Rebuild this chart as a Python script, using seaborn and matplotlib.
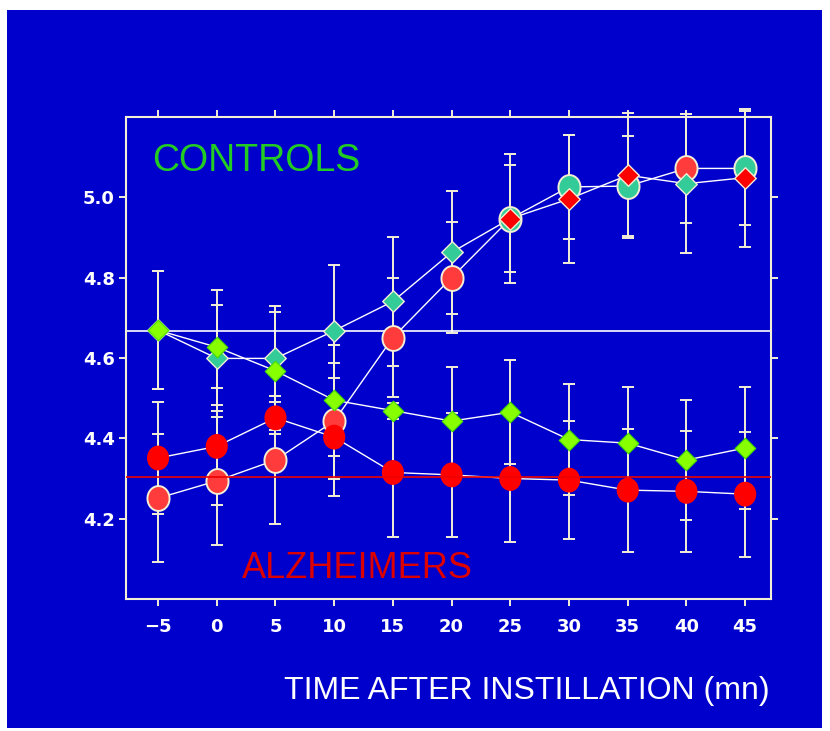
import numpy as np
import pandas as pd
import matplotlib
matplotlib.use('Agg')
import matplotlib.pyplot as plt
from matplotlib.patches import Rectangle
from matplotlib.path import Path
import seaborn as sns

# ── data ────────────────────────────────────────────────
time = [-5, 0, 5, 10, 15, 20, 25, 30, 35, 40, 45]

# rising pair (diamond / circle markers)
rise_diamond     = [4.669, 4.599, 4.599, 4.668, 4.741, 4.863, 4.947, 4.996, 5.055, 5.034, 5.049]
rise_diamond_err = [0.147, 0.132, 0.131, 0.163, 0.160, 0.153, 0.160, 0.160, 0.155, 0.173, 0.172]
rise_circle      = [4.251, 4.294, 4.346, 4.443, 4.651, 4.800, 4.947, 5.026, 5.028, 5.072, 5.072]
rise_circle_err  = [0.160, 0.160, 0.160, 0.145, 0.147, 0.138, 0.133, 0.130, 0.125, 0.135, 0.142]

# falling pair
ctrl_fall     = [4.669, 4.627, 4.568, 4.495, 4.469, 4.443, 4.465, 4.397, 4.388, 4.346, 4.376]
ctrl_fall_err = [0.147, 0.143, 0.147, 0.138, 0.020, 0.134, 0.130, 0.138, 0.140, 0.150, 0.152]
ad_fall       = [4.351, 4.380, 4.451, 4.403, 4.315, 4.309, 4.300, 4.296, 4.271, 4.268, 4.261]
ad_fall_err   = [0.140, 0.145, 0.040, 0.147, 0.160, 0.155, 0.157, 0.146, 0.153, 0.150, 0.156]

ctrl_baseline = 4.667
ad_baseline = 4.303
swapped = [25, 30, 35, 45]   # points where the slide shows teal circle + red diamond

BLUE = '#0000cc'
CREAM = '#f3efd6'
TEAL = '#33cc99'
LIME = '#88ff00'
PINK_RED = '#ff3b3b'
RED = '#ff0000'

# slightly tall oval, like the slide's round markers
ang = np.linspace(0, 2 * np.pi, 60)
OVAL = Path(np.column_stack([np.cos(ang) * 0.89, np.sin(ang)]))

sns.set_style('ticks')
plt.rcParams['font.family'] = ['DejaVu Sans']

fig = plt.figure(figsize=(8.3, 7.31), dpi=100)
fig.patch.set_facecolor('white')
fig.patches.append(Rectangle((7 / 830, 3 / 731), 815 / 830, 718 / 731,
                             transform=fig.transFigure, facecolor=BLUE,
                             edgecolor='none', zorder=-10))
ax = fig.add_axes([126 / 830, 1 - 599 / 731, 645 / 830, 482 / 731])
ax.set_facecolor(BLUE)

t = np.array(time)
swap = np.isin(t, swapped)

# error bars
for vals, errs in [(rise_diamond, rise_diamond_err), (rise_circle, rise_circle_err),
                   (ctrl_fall, ctrl_fall_err), (ad_fall, ad_fall_err)]:
    ax.errorbar(time, vals, yerr=errs, fmt='none', ecolor=CREAM,
                elinewidth=1.4, capsize=4.3, capthick=1.4, zorder=2, clip_on=False)

ax.axhline(ctrl_baseline, color='white', lw=1.2, zorder=2.5)

# connecting lines
for vals in [rise_diamond, rise_circle, ctrl_fall, ad_fall]:
    sns.lineplot(x=time, y=vals, color='white', lw=1.0, estimator=None,
                 ax=ax, zorder=3)

# markers
rc = np.array(rise_circle)
rd = np.array(rise_diamond)
sns.scatterplot(x=t[~swap], y=rc[~swap], marker=OVAL, s=320, color=PINK_RED,
                edgecolor=CREAM, linewidth=1.4, ax=ax, zorder=4)
sns.scatterplot(x=t[swap], y=rc[swap], marker=OVAL, s=320, color=TEAL,
                edgecolor=CREAM, linewidth=1.4, ax=ax, zorder=4)
sns.scatterplot(x=t[~swap], y=rd[~swap], marker='D', s=120, color=TEAL,
                edgecolor=CREAM, linewidth=1.0, ax=ax, zorder=5)
sns.scatterplot(x=t[swap], y=rd[swap], marker='D', s=120, color=RED,
                edgecolor=CREAM, linewidth=1.0, ax=ax, zorder=5)
sns.scatterplot(x=time, y=ad_fall, marker=OVAL, s=320, color=RED,
                edgecolor='none', ax=ax, zorder=6)
sns.scatterplot(x=time, y=ctrl_fall, marker='D', s=110, color=LIME,
                edgecolor='#44dd00', linewidth=0.8, ax=ax, zorder=7)

ax.axhline(ad_baseline, color='#ee0000', lw=1.2, zorder=6.5)

ax.set_xlim(-7.73, 47.2)
ax.set_ylim(4.0, 5.2)
ax.set_xticks(time)
ax.set_yticks([4.2, 4.4, 4.6, 4.8, 5.0])
ax.yaxis.set_major_formatter(matplotlib.ticker.FormatStrFormatter('%.1f'))
ax.tick_params(direction='out', length=5, width=1.4, color=CREAM,
               top=True, right=True, labeltop=False, labelright=False,
               labelcolor='white', labelsize=13)
ax.tick_params(axis='x', pad=9)
ax.tick_params(axis='y', pad=3)
for lab in ax.get_xticklabels() + ax.get_yticklabels():
    lab.set_fontweight('bold')
for sp in ax.spines.values():
    sp.set_color(CREAM)
    sp.set_linewidth(1.5)
ax.set_xlabel('')
ax.set_ylabel('')

ax.text(0.04, 0.888, 'CONTROLS', transform=ax.transAxes, color='#22cc22',
        fontsize=27, family=['Liberation Sans', 'DejaVu Sans'], va='baseline')
ax.text(0.18, 0.044, 'ALZHEIMERS', transform=ax.transAxes, color='#dd0000',
        fontsize=26, family=['Liberation Sans', 'DejaVu Sans'], va='baseline')
fig.text(770 / 830, 1 - 699 / 731, 'TIME AFTER INSTILLATION (mn)', color='white',
         fontsize=23, family=['Liberation Sans', 'DejaVu Sans'],
         ha='right', va='baseline')

plt.savefig('out.png', dpi=100)
